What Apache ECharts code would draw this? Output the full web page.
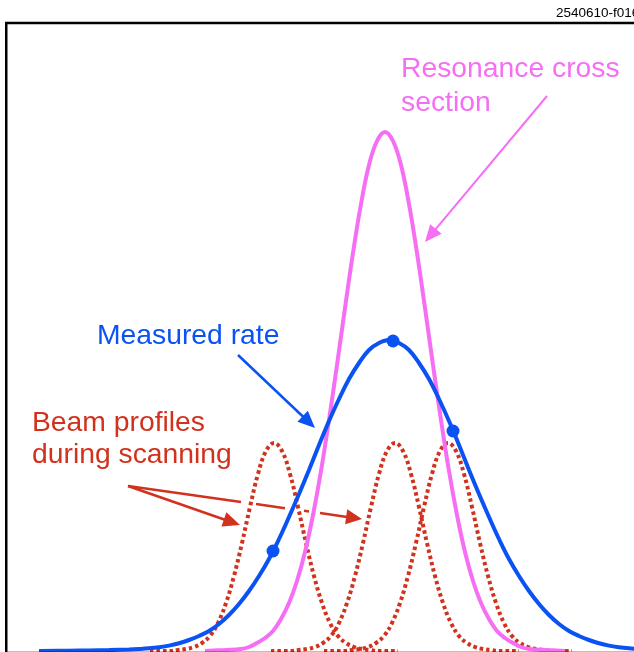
<!DOCTYPE html>
<html>
<head>
<meta charset="utf-8">
<script src="https://cdn.jsdelivr.net/npm/echarts@6/dist/echarts.min.js"></script>
<style>
  html, body { margin: 0; padding: 0; background: #fff; }
  #chart { width: 634px; height: 652px; }
</style>
</head>
<body>
<div id="chart"></div>
<script>
// Beam energy (arbitrary units) and curve heights (arbitrary units).

// Resonance cross section
const resonanceEnergy = [199, 219, 235, 243, 251, 259, 267, 275, 283, 291, 299, 307, 315, 323, 331, 339, 347, 355, 363, 371,
  379, 387, 395, 403, 411, 419, 427, 435, 443, 451, 459, 467, 475, 483, 491, 499, 507, 515, 523, 539, 559];
const resonanceValue = [0, 1, 2, 4, 8, 13, 20, 32, 48, 70, 99, 136, 180, 231, 286, 343, 398, 447, 486, 510,
  519, 510, 486, 447, 398, 343, 286, 231, 180, 136, 99, 70, 48, 32, 20, 13, 8, 4, 2, 1, 0];

// Measured rate
const rateEnergy = [33, 63, 83, 103, 123, 133, 143, 153, 163, 173, 183, 193, 203, 213, 223, 233, 243, 253, 263, 273,
  283, 293, 303, 313, 323, 333, 343, 353, 363, 373, 383, 393, 403, 413, 423, 433, 443, 453, 463, 473,
  483, 493, 503, 513, 523, 533, 543, 553, 563, 573, 583, 593, 603, 613, 623, 633, 643];
const rateValue = [0, 0.3, 0.5, 0.9, 1.5, 2, 2.7, 3.8, 5.4, 7.8, 11, 15, 20, 27, 36, 47, 60, 75, 92, 112,
  134, 157, 181, 206, 230, 252, 272, 288, 301, 308, 311, 308, 301, 288, 272, 252, 230, 206, 181, 157,
  134, 112, 92, 75, 60, 47, 36, 27, 20, 15, 11, 7.8, 5.4, 3.8, 2.7, 2, 1.5];

// Measured points (one per beam setting)
const pointEnergy = [267, 387, 447];
const pointValue = [100, 310, 220];

// Beam profiles at three settings of the scan
const beam1Energy = [144, 164, 172, 180, 188, 196, 204, 212, 220, 228, 236, 244, 252, 260, 268,
  276, 284, 292, 300, 308, 316, 324, 332, 340, 348, 356, 364, 372, 392];
const beam2Energy = [265, 285, 293, 301, 309, 317, 325, 333, 341, 349, 357, 365, 373, 381, 389,
  397, 405, 413, 421, 429, 437, 445, 453, 461, 469, 477, 485, 493, 513];
const beam3Energy = [318, 338, 346, 354, 362, 370, 378, 386, 394, 402, 410, 418, 426, 434, 442,
  450, 458, 466, 474, 482, 490, 498, 506, 514, 522, 530, 538, 546, 566];
const beamValue = [0, 0, 1, 2, 4, 8, 15, 28, 48, 75, 108, 144, 177, 200, 208,
  200, 177, 144, 108, 75, 48, 28, 15, 8, 4, 2, 1, 0, 0];

const PINK = '#f56ef3';
const BLUE = '#0a52f2';
const RED = '#d0321e';
const FONT = '"Liberation Sans", Arial, Helvetica, sans-serif';

function pairs(xs, ys) { return xs.map((x, i) => [x, ys[i]]); }

function beamSeries(xs) {
  return {
    type: 'line', data: pairs(xs, beamValue), smooth: 0.4, showSymbol: false, clip: false,
    lineStyle: { color: RED, width: 4, type: [3.5, 3], cap: 'butt' }, z: 2, silent: true
  };
}

// Straight arrow with a filled triangular head
function arrow(x1, y1, x2, y2, color, lw, headLen, headW, segs) {
  const dx = x2 - x1, dy = y2 - y1, L = Math.hypot(dx, dy);
  const ux = dx / L, uy = dy / L;
  const bx = x2 - ux * headLen, by = y2 - uy * headLen;
  const px = -uy * headW / 2, py = ux * headW / 2;
  const parts = [];
  const ranges = segs || [[0, 1]];
  ranges.forEach(r => {
    const a = r[0], b = r[1];
    const ex = x1 + (bx - x1) * b, ey = y1 + (by - y1) * b;
    parts.push({
      type: 'line', silent: true, z: 10,
      shape: { x1: x1 + (bx - x1) * a, y1: y1 + (by - y1) * a, x2: ex + ux * 1, y2: ey + uy * 1 },
      style: { stroke: color, lineWidth: lw }
    });
  });
  parts.push({
    type: 'polygon', silent: true, z: 10,
    shape: { points: [[x2, y2], [bx + px, by + py], [bx - px, by - py]] },
    style: { fill: color }
  });
  return parts;
}

function label(text, x, y, size, color) {
  return {
    type: 'text', silent: true, z: 10, x: x, y: y,
    style: { text: text, fill: color, font: size + 'px ' + FONT, textVerticalAlign: 'middle' }
  };
}

// Long red arrow is interrupted where it passes behind the curves
const longX1 = 128, longX2 = 362, longHead = 16;
const longBase = longX2 - longHead * Math.cos(Math.atan2(33, 234)) - longX1;
function frac(x) { return (x - longX1) / longBase; }

const chart = echarts.init(document.getElementById('chart'), null, { renderer: 'canvas' });
chart.setOption({
  animation: false,
  backgroundColor: '#ffffff',
  grid: { left: 6, top: 23, right: 0, height: 628, show: false, outerBoundsMode: 'none', containLabel: false },
  xAxis: { type: 'value', min: 0, max: 628, show: false },
  yAxis: { type: 'value', min: 0, max: 628, show: false },
  series: [
    beamSeries(beam1Energy),
    beamSeries(beam2Energy),
    beamSeries(beam3Energy),
    {
      type: 'line', data: pairs(resonanceEnergy, resonanceValue), smooth: 0.4, showSymbol: false, clip: false,
      lineStyle: { color: PINK, width: 4 }, z: 3, silent: true
    },
    {
      type: 'line', data: pairs(rateEnergy, rateValue), smooth: 0.4, showSymbol: false, clip: false,
      lineStyle: { color: BLUE, width: 4 }, z: 4, silent: true
    },
    {
      type: 'scatter', data: pairs(pointEnergy, pointValue), symbol: 'circle', symbolSize: 13, clip: false,
      itemStyle: { color: BLUE, opacity: 1 }, z: 5, silent: true
    }
  ],
  graphic: [
    {
      type: 'rect', silent: true, z: 20,
      shape: { x: 6.25, y: 23, width: 700, height: 630 },
      style: { fill: 'none', stroke: '#000', lineWidth: 2.5 }
    },
    {
      type: 'text', silent: true, z: 20, x: 556, y: 13,
      style: { text: '2540610-f016', fill: '#000', font: '13.5px ' + FONT, textVerticalAlign: 'middle' }
    },
    label('Resonance cross', 401, 69, 28.3, PINK),
    label('section', 401, 103, 28.3, PINK),
    label('Measured rate', 97, 336, 28.3, BLUE),
    label('Beam profiles', 32, 423, 28.3, RED),
    label('during scanning', 32, 455, 28.3, RED),
    ...arrow(547, 96, 425, 242, PINK, 2, 17, 15),
    ...arrow(238, 355, 315, 428, BLUE, 2.5, 17, 15),
    ...arrow(128, 486, 240, 525, RED, 2.5, 17, 15),
    ...arrow(longX1, 486, longX2, 519, RED, 2.5, longHead, 15,
      [[0, frac(240)], [frac(256), frac(284)], [frac(304), frac(308)], [frac(320), 1]])
  ]
});
</script>
</body>
</html>
